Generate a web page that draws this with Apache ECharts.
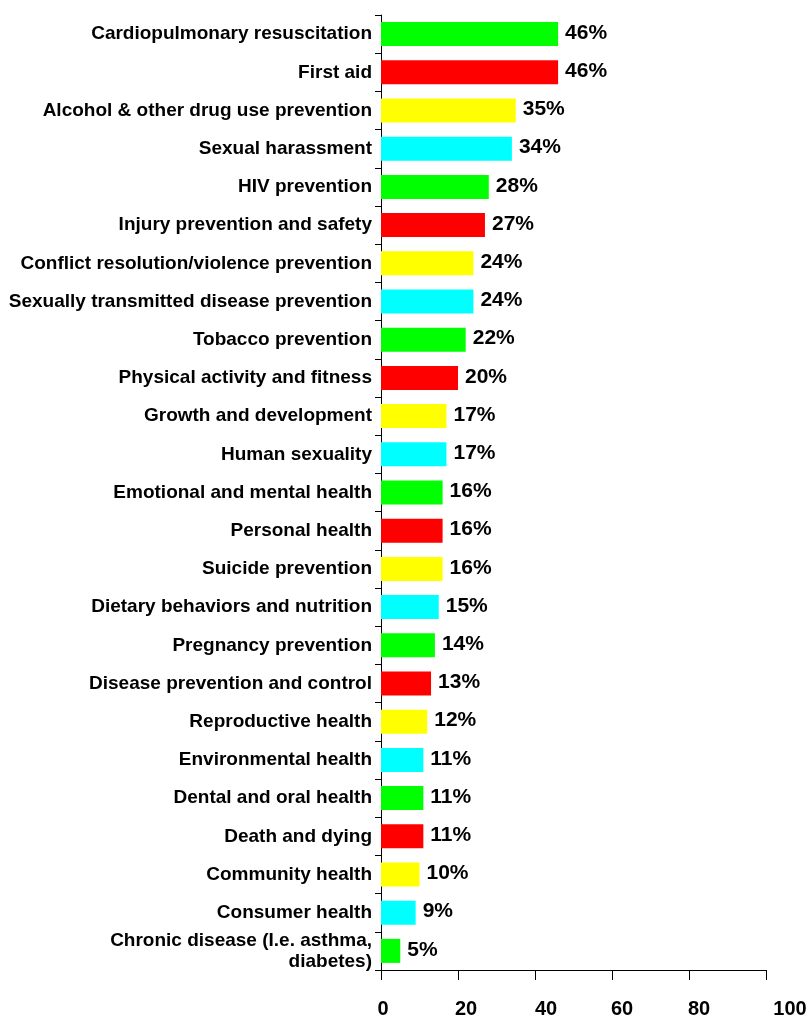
<!DOCTYPE html>
<html><head><meta charset="utf-8">
<script src="https://cdn.jsdelivr.net/npm/echarts@6/dist/echarts.min.js"></script>
<style>html,body{margin:0;padding:0;background:#fff}#c{width:811px;height:1019px}</style>
</head><body><div id="c"></div>
<script>
const categories = [
  "Cardiopulmonary resuscitation","First aid","Alcohol & other drug use prevention","Sexual harassment",
  "HIV prevention","Injury prevention and safety","Conflict resolution/violence prevention",
  "Sexually transmitted disease prevention","Tobacco prevention","Physical activity and fitness",
  "Growth and development","Human sexuality","Emotional and mental health","Personal health",
  "Suicide prevention","Dietary behaviors and nutrition","Pregnancy prevention",
  "Disease prevention and control","Reproductive health","Environmental health",
  "Dental and oral health","Death and dying","Community health","Consumer health",
  "Chronic disease (I.e. asthma,\ndiabetes)"
];
const values = [46,46,35,34,28,27,24,24,22,20,17,17,16,16,16,15,14,13,12,11,11,11,10,9,5];
const palette = ["#00FF00","#FF0000","#FFFF00","#00FFFF"];
const xTicks = [0,20,40,60,80,100];

// horizontal nudges of x tick labels (style only)
const xLabelPad = {0:4,20:16,40:22,60:20,80:20,100:48};
const xRich = {};
for (const t of xTicks) xRich['p'+t] = {padding:[0,0,0,xLabelPad[t]],fontSize:20,fontWeight:'bold',fontFamily:'Liberation Sans, Arial',color:'#000'};

const chart = echarts.init(document.getElementById('c'));
chart.setOption({
  animation:false,
  grid:{left:381,right:45,top:15,bottom:48,containLabel:false},
  xAxis:{type:'value',min:0,max:100,interval:20,
    axisLine:{show:true,lineStyle:{color:'#000',width:1}},
    axisTick:{show:true,length:10,lineStyle:{color:'#000'}},
    splitLine:{show:false},
    axisLabel:{margin:29,color:'#000',fontFamily:'Liberation Sans, Arial',fontWeight:'bold',fontSize:20,
      formatter:v=>xTicks.includes(v)?('{p'+v+'|'+v+'}'):'', rich:xRich}},
  yAxis:{type:'category',data:categories,inverse:true,
    axisLine:{show:true,lineStyle:{color:'#000',width:1}},
    axisTick:{show:true,length:6,lineStyle:{color:'#000'}},
    axisLabel:{interval:0,showMinLabel:true,showMaxLabel:true,hideOverlap:false,
      margin:9,color:'#000',fontFamily:'Liberation Sans, Arial',fontWeight:'bold',fontSize:19,lineHeight:21,align:'right',padding:[11,0,0,0]}},
  series:[{type:'bar',data:values.map((v,i)=>({value:v,itemStyle:{color:palette[i%4]}})),
    barWidth:24,
    label:{show:true,position:'right',distance:7,offset:[0,-1],formatter:'{c}%',color:'#000',
      fontFamily:'Liberation Sans, Arial',fontWeight:'bold',fontSize:21}}]
});
</script></body></html>
